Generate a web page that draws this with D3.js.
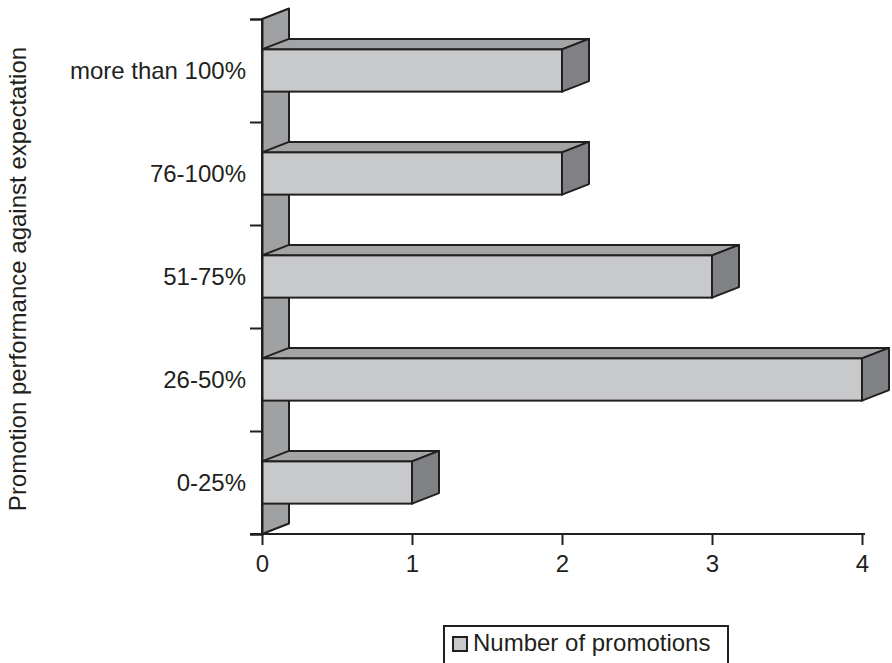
<!DOCTYPE html>
<html><head><meta charset="utf-8">
<script src="https://cdn.jsdelivr.net/npm/d3@7"></script>
<style>
html,body{margin:0;padding:0;background:#fff;}
svg{display:block;font-family:"Liberation Sans",Arial,sans-serif;}
</style></head>
<body>
<svg id="chart" width="892" height="663"></svg>
<script>
const categories = ["0-25%","26-50%","51-75%","76-100%","more than 100%"];
const values = [1,4,3,2,2];
const xTicks = [0,1,2,3,4];
const seriesName = "Number of promotions";
const yTitle = "Promotion performance against expectation";

const ink = "#231f20";
const cFront = "#c8c9cb", cTop = "#a3a4a6", cSide = "#808184", cWall = "#a0a1a3";
const DX = 27, DY = -10.5;

const svg = d3.select("#chart");
const x = d3.scaleLinear().domain([0,4]).range([262,862]);
const y = d3.scaleBand().domain(categories).range([534,19]).padding(0);
const yIdx = d3.scaleLinear().domain([0,categories.length]).range([534,19]);
const barFrac = 0.41;

// back wall
const x0 = x(0);
svg.append("path")
  .attr("d", `M${x0},${yIdx(categories.length)}L${x0+DX},${yIdx(categories.length)+DY}L${x0+DX},${yIdx(0)+DY}L${x0},${yIdx(0)}Z`)
  .attr("fill", cWall).attr("stroke", ink).attr("stroke-width", 2).attr("stroke-linejoin","round");

// bars
const bars = svg.append("g").selectAll("g").data(categories.map((c,i)=>({c, v: values[i]}))).join("g");
bars.each(function(d){
  const g = d3.select(this);
  const bh = y.bandwidth()*barFrac;
  const yt = y(d.c) + (y.bandwidth()-bh)/2, yb = yt + bh;
  const xl = x(0), xr = x(d.v);
  g.append("path").attr("d", `M${xl},${yt}L${xl+DX},${yt+DY}L${xr+DX},${yt+DY}L${xr},${yt}Z`)
    .attr("fill", cTop).attr("stroke", ink).attr("stroke-width", 2).attr("stroke-linejoin","round");
  g.append("path").attr("d", `M${xr},${yt}L${xr+DX},${yt+DY}L${xr+DX},${yb+DY}L${xr},${yb}Z`)
    .attr("fill", cSide).attr("stroke", ink).attr("stroke-width", 2).attr("stroke-linejoin","round");
  g.append("rect").attr("x", xl).attr("y", yt).attr("width", xr-xl).attr("height", bh)
    .attr("fill", cFront).attr("stroke", ink).attr("stroke-width", 2);
});

// y axis (ticks at category boundaries)
const yAxis = svg.append("g").attr("transform", `translate(${x0},0)`)
  .call(d3.axisLeft(yIdx).tickValues(d3.range(categories.length+1)).tickSize(12).tickFormat(""));
yAxis.select(".domain").attr("stroke", ink).attr("stroke-width", 2);
yAxis.selectAll(".tick line").attr("stroke", ink).attr("stroke-width", 2);

// category labels
svg.append("g").selectAll("text").data(categories).join("text")
  .attr("x", 246).attr("y", d => y(d) + y.bandwidth()/2).attr("dy", "0.35em")
  .attr("text-anchor", "end").attr("font-size", 24).attr("fill", ink).text(d => d);

// x axis
const xAxis = svg.append("g").attr("transform", `translate(0,${yIdx(0)})`)
  .call(d3.axisBottom(x).tickValues(xTicks).tickSize(11).tickPadding(10).tickFormat(d3.format("d")));
xAxis.select(".domain").remove();
xAxis.selectAll(".tick line").attr("stroke", ink).attr("stroke-width", 2);
xAxis.selectAll(".tick text").attr("font-size", 24).attr("fill", ink).attr("font-family", "Liberation Sans, Arial, sans-serif");
xAxis.append("line").attr("x1", 250).attr("x2", x(4)+3).attr("y1", 0).attr("y2", 0)
  .attr("stroke", ink).attr("stroke-width", 2);

// y title
svg.append("text").attr("transform", "translate(26,279) rotate(-90)")
  .attr("text-anchor", "middle").attr("font-size", 24).attr("fill", ink).text(yTitle);

// legend
const lg = svg.append("g");
lg.append("rect").attr("x", 444).attr("y", 626).attr("width", 284).attr("height", 50)
  .attr("fill", "#fff").attr("stroke", ink).attr("stroke-width", 2);
lg.append("rect").attr("x", 453).attr("y", 637).attr("width", 14).attr("height", 14)
  .attr("fill", cFront).attr("stroke", ink).attr("stroke-width", 2);
lg.append("text").attr("x", 473).attr("y", 651).attr("font-size", 24).attr("fill", ink).text(seriesName);
</script>
</body></html>
